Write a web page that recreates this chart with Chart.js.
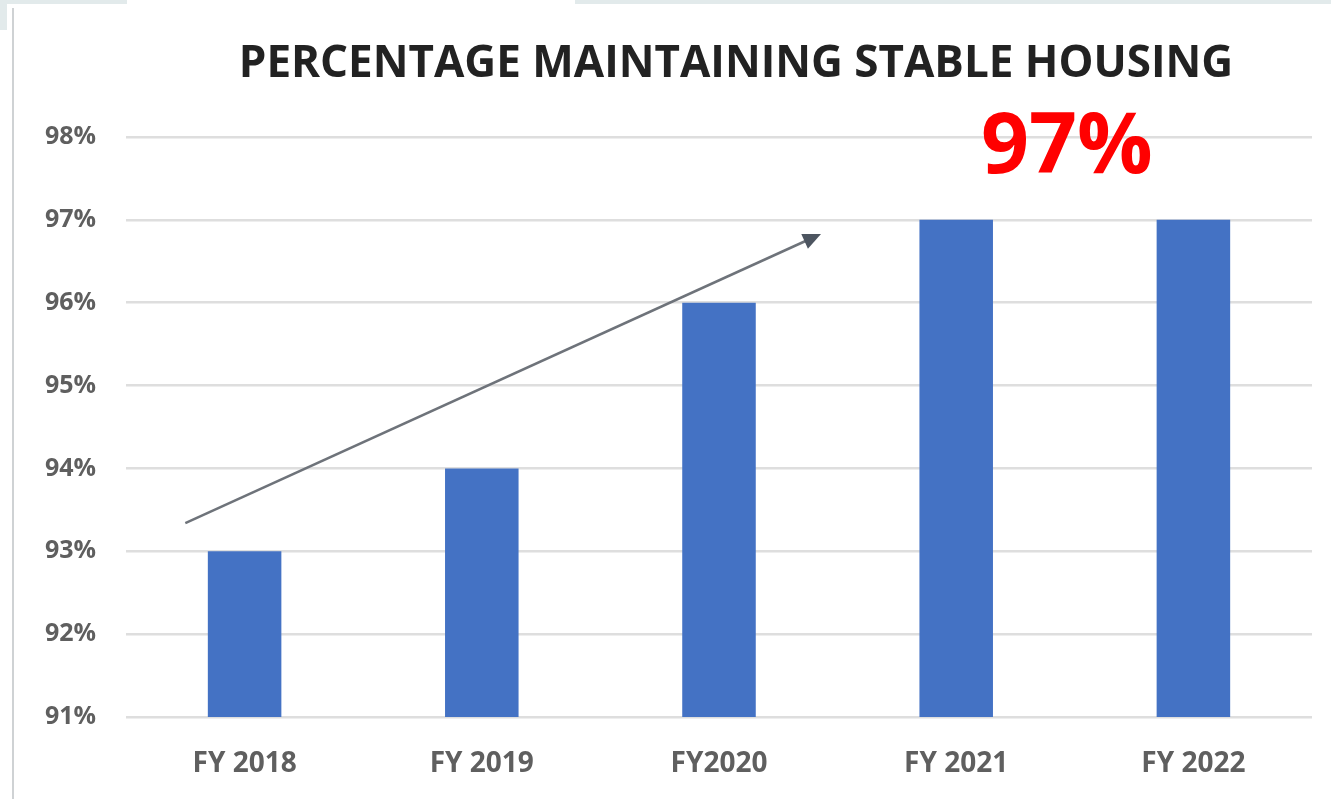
<!DOCTYPE html>
<html>
<head>
<meta charset="utf-8">
<script src="https://cdn.jsdelivr.net/npm/chart.js@4/dist/chart.umd.min.js"></script>
<style>
  html, body { margin: 0; padding: 0; background: #fff; }
  #wrap { position: relative; width: 1331px; height: 799px; overflow: hidden; }
  .band { position: absolute; background: #e2eaeb; }
  #edge { position: absolute; left: 12px; top: 8px; width: 2px; height: 791px; background: #cfd2d4; }
</style>
</head>
<body>
<div id="wrap">
  <div class="band" style="left:0;top:0;width:127px;height:4px"></div>
  <div class="band" style="left:0;top:0;width:7px;height:30px"></div>
  <div class="band" style="left:575px;top:0;width:756px;height:4px"></div>
  <div id="edge"></div>
  <canvas id="chart" width="1331" height="799"></canvas>
</div>
<script>
  /* ---------- DATA ---------- */
  const categories = ["FY 2018", "FY 2019", "FY2020", "FY 2021", "FY 2022"];
  const values = [93, 94, 96, 97, 97];
  const yTicks = [91, 92, 93, 94, 95, 96, 97, 98];
  const chartTitle = "PERCENTAGE MAINTAINING STABLE HOUSING";
  const highlight = "97%";
  // trend arrow, in data units: [category index, value]
  const arrowFrom = [-0.25, 93.34];
  const arrowTo = [2.43, 96.83];

  const blue = "#4472c4";
  const gridGray = "#dedede";
  const tickGray = "#5f5f5f";
  const font = "'Open Sans', sans-serif";

  /* ---------- OVERLAY: TITLE, ARROW, BIG LABEL ---------- */
  const overlay = {
    id: "overlay",
    afterDatasetsDraw(chart) {
      const { ctx, scales } = chart;
      const x = scales.x, y = scales.y;

      // title, centred a bit right of the canvas middle as in the source
      ctx.save();
      ctx.fillStyle = "#222222";
      ctx.font = "bold 44px " + font;
      ctx.textAlign = "center";
      ctx.textBaseline = "middle";
      ctx.fillText(chartTitle, 736, 64);

      // trend arrow
      const x1 = x.getPixelForValue(arrowFrom[0]);
      const y1 = y.getPixelForValue(arrowFrom[1]);
      const x2 = x.getPixelForValue(arrowTo[0]);
      const y2 = y.getPixelForValue(arrowTo[1]);
      const ang = Math.atan2(y2 - y1, x2 - x1);
      const c = Math.cos(ang), s = Math.sin(ang);
      ctx.strokeStyle = "#6e737a";
      ctx.fillStyle = "#4d5560";
      ctx.lineWidth = 2.5;
      ctx.beginPath();
      ctx.moveTo(x1, y1);
      ctx.lineTo(x2 - 14 * c, y2 - 14 * s);
      ctx.stroke();
      ctx.beginPath();
      ctx.moveTo(x2, y2);
      ctx.lineTo(x2 - 18 * c + 8 * s, y2 - 18 * s - 8 * c);
      ctx.lineTo(x2 - 18 * c - 8 * s, y2 - 18 * s + 8 * c);
      ctx.closePath();
      ctx.fill();

      // big red value between the last two bars
      const cx = (x.getPixelForValue(3) + x.getPixelForValue(4)) / 2 - 8;
      const cy = y.getPixelForValue(97.85);
      ctx.fillStyle = "#ff0000";
      ctx.font = "bold 84px " + font;
      ctx.fillText(highlight, cx, cy);
      ctx.restore();
    },
  };

  /* ---------- CHART ---------- */
  new Chart(document.getElementById("chart"), {
    type: "bar",
    data: {
      labels: categories,
      datasets: [
        {
          data: values,
          backgroundColor: blue,
          barPercentage: 0.31,
          categoryPercentage: 1,
        },
      ],
    },
    options: {
      responsive: false,
      animation: false,
      layout: { padding: { left: 0, right: 19, top: 137, bottom: 0 } },
      plugins: {
        legend: { display: false },
        tooltip: { enabled: false },
        title: { display: false },
      },
      scales: {
        x: {
          grid: { display: false, drawTicks: false },
          border: { display: false },
          ticks: {
            color: tickGray,
            padding: 30,
            font: { family: font, size: 28, weight: "bold" },
          },
          afterFit: (s) => { s.height = 82; },
        },
        y: {
          min: 91,
          max: 98,
          afterBuildTicks: (s) => { s.ticks = yTicks.map((v) => ({ value: v })); },
          grid: { color: gridGray, lineWidth: 2.5, drawTicks: false },
          border: { display: false },
          ticks: {
            color: tickGray,
            padding: 30,
            font: { family: font, size: 25, weight: "bold" },
            callback: (v) => v + "%",
          },
          afterFit: (s) => { s.width = 126; },
        },
      },
    },
    plugins: [overlay],
  });
</script>
</body>
</html>
